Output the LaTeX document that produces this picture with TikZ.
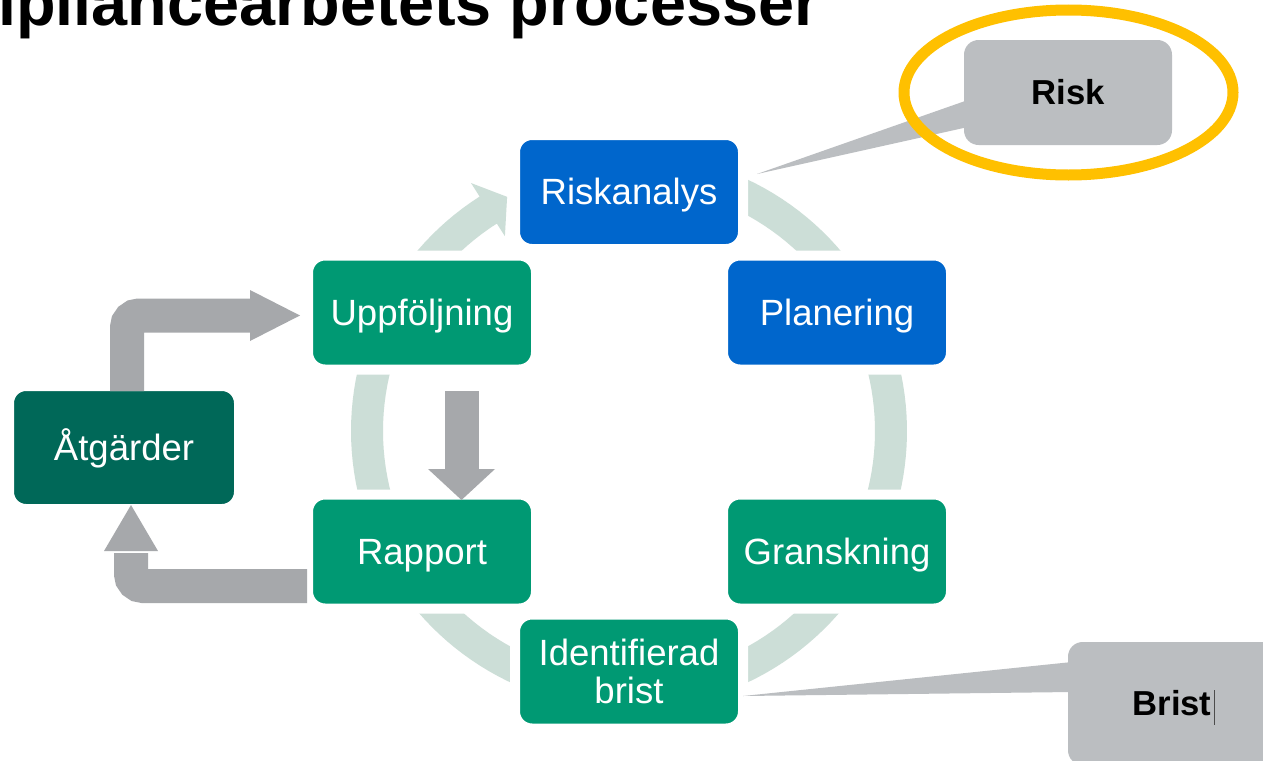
\documentclass[tikz,border=0pt]{standalone}
\usepackage{fontspec}
\setmainfont{Liberation Sans}
\usetikzlibrary{calc}
\definecolor{blu}{HTML}{0066CC}
\definecolor{grn}{HTML}{009973}
\definecolor{dgrn}{HTML}{006858}
\definecolor{ringc}{HTML}{CCDED7}
\definecolor{arrg}{HTML}{A6A8AB}
\definecolor{callg}{HTML}{BBBEC1}
\definecolor{yel}{HTML}{FFC000}
\begin{document}
\begin{tikzpicture}[x=0.75pt,y=-0.75pt,
  stepbox/.style={draw=white, line width=7.5pt, rounded corners=12.75pt,
    minimum width=171pt, minimum height=85.5pt, text=white, align=center,
    inner sep=0pt, font=\fontsize{27.4}{29}\selectfont},
  oneline/.style={text height=24.8pt, text depth=5.8pt},
  shaft/.style={draw=arrg, line width=25.5pt, rounded corners=9pt},
  callbox/.style={fill=callg, rounded corners=11pt, inner sep=0pt,
    minimum width=156pt, minimum height=78.75pt, text=black,
    font=\bfseries\fontsize{26}{28}\selectfont}]
\useasboundingbox (0,0) rectangle (1263,760);
\clip (0,0) rectangle (1263,760);
\fill[white] (0,0) rectangle (1263,760);
% ring arrow
\coordinate (cc) at (629,431);
\fill[ringc] plot[domain=-80:237.5,samples=150] ({629+278*cos(\x)},{431+278*sin(\x)})
  -- ({629+294*cos(237.5)},{431+294*sin(237.5)})
  -- ({629+264*cos(242.5)},{431+264*sin(242.5)})
  -- ({629+231*cos(237.5)},{431+231*sin(237.5)})
  -- plot[domain=237.5:-80,samples=150] ({629+246*cos(\x)},{431+246*sin(\x)}) -- cycle;
% boxes
\node[stepbox, oneline, fill=blu] (ris) at (629,192) {Riskanalys};
\node[stepbox, oneline, fill=blu] (pla) at (837,312.5) {Planering};
\node[stepbox, oneline, fill=grn] (upp) at (422,312.5) {Uppföljning};
\node[stepbox, oneline, fill=grn] (rap) at (422,551.5) {Rapport};
\node[stepbox, oneline, fill=grn] (gra) at (837,551.5) {Granskning};
\node[stepbox, fill=grn] (idb) at (629,671.5) {Identifierad\\brist};
\node[stepbox, oneline, fill=dgrn, minimum width=172.5pt, minimum height=92.25pt] (atg) at (124,447.5) {Åtgärder};
% gray arrows
\draw[shaft] ($(atg.center)+(3,-56.5)$) |- ($(upp.center)+(-170,3)$);
\fill[arrg] ($(upp.center)+(-172,-22.5)$) -- ($(upp.center)+(-122,3)$) -- ($(upp.center)+(-172,28.5)$) -- cycle;
\draw[shaft] ($(rap.center)+(-115,34.5)$) -| ($(atg.center)+(7,105.5)$);
\fill[arrg] ($(atg.center)+(-20,103.5)$) -- ($(atg.center)+(7,57.5)$) -- ($(atg.center)+(34,103.5)$) -- cycle;
\draw[shaft, rounded corners=0pt] ($(upp.center)+(39.5,78.5)$) -- ($(rap.center)+(39.5,-80)$);
\fill[arrg] ($(rap.center)+(6,-82.5)$) -- ($(rap.center)+(39.5,-51.5)$) -- ($(rap.center)+(73,-82.5)$) -- cycle;
% callouts
\node[callbox] (risk) at (1068,92.5) {Risk};
\coordinate (tipR) at ($(ris.center)+(128,-18)$);
\fill[callg] ($(risk.center)+(-100,7.5)$) -- (tipR) -- ($(risk.center)+(-100,34.5)$) -- cycle;
\node[callbox, minimum height=92.25pt] (brist) at (1172,703.5) {Brist};
\coordinate (tipB) at ($(idb.center)+(114,24.5)$);
\fill[callg] ($(brist.center)+(-100,-41.5)$) -- (tipB) -- ($(brist.center)+(-100,-11.5)$) -- cycle;
\draw[line width=0.75pt, black!70] ($(brist.center)+(42,-13.5)$) -- ($(brist.center)+(42,21.5)$);
\draw[yel, line width=8.25pt] (1068.5,92.5) ellipse [x radius=164.5, y radius=82.5];
% title
\node[anchor=base west, inner sep=0pt, font=\bfseries\fontsize{48.6}{50}\selectfont] (title) at (-2,25) {ipliancearbetets processer};
\end{tikzpicture}
\end{document}
